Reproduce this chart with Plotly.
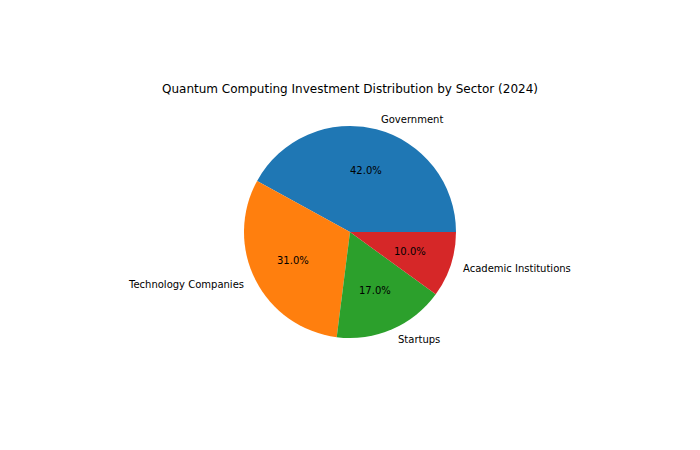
"""Pie chart of quantum computing investment by sector."""

import math

import plotly.graph_objects as go

sectors = ["Government", "Technology Companies", "Startups", "Academic Institutions"]
shares = [42, 31, 17, 10]
colors = ["#1f77b4", "#ff7f0e", "#2ca02c", "#d62728"]

W, H = 700, 450
PAGE_MARGIN = 8  # default body margin of the html page shifts the figure
cx, cy = 350 - PAGE_MARGIN, 232 - PAGE_MARGIN  # pie centre in px (top-left origin)
radius = 106
font = "DejaVu Sans"

total = sum(shares)

fig = go.Figure(
    go.Pie(
        labels=sectors,
        values=shares,
        marker=dict(colors=colors, line=dict(width=0)),
        sort=False,
        direction="counterclockwise",
        # first wedge starts at 3 o'clock and runs counterclockwise (matplotlib default)
        rotation=90 - 360 * shares[0] / total,
        textinfo="none",
        hoverinfo="skip",
        showlegend=False,
        domain=dict(
            x=[(cx - radius) / W, (cx + radius) / W],
            y=[(H - cy - radius) / H, (H - cy + radius) / H],
        ),
    )
)

# matplotlib-style labels: names at 1.1r, percentages at 0.6r
start = 0.0
for name, v in zip(sectors, shares):
    mid = math.radians(start + 180 * v / total)
    start += 360 * v / total
    ca, sa = math.cos(mid), math.sin(mid)
    fig.add_annotation(
        x=(cx + 1.1 * radius * ca) / W,
        y=(H - cy + 1.1 * radius * sa) / H,
        xref="paper", yref="paper",
        text=name,
        showarrow=False,
        xanchor="left" if ca > 0 else "right",
        yanchor="middle",
        font=dict(family=font, size=10, color="black"),
    )
    fig.add_annotation(
        x=(cx + 0.6 * radius * ca) / W,
        y=(H - cy + 0.6 * radius * sa) / H,
        xref="paper", yref="paper",
        text=f"{100 * v / total:.1f}%",
        showarrow=False,
        xanchor="center",
        yanchor="middle",
        font=dict(family=font, size=10, color="black"),
    )

fig.update_layout(
    width=W,
    height=H,
    margin=dict(l=0, r=0, t=0, b=0),
    paper_bgcolor="white",
    plot_bgcolor="white",
    title=dict(
        text="Quantum Computing Investment Distribution by Sector (2024)",
        x=(350 - PAGE_MARGIN) / W,
        xanchor="center",
        y=(H - 89 + PAGE_MARGIN) / H,
        yanchor="middle",
        font=dict(family=font, size=12, color="black"),
    ),
)

fig.write_html("out.html")
